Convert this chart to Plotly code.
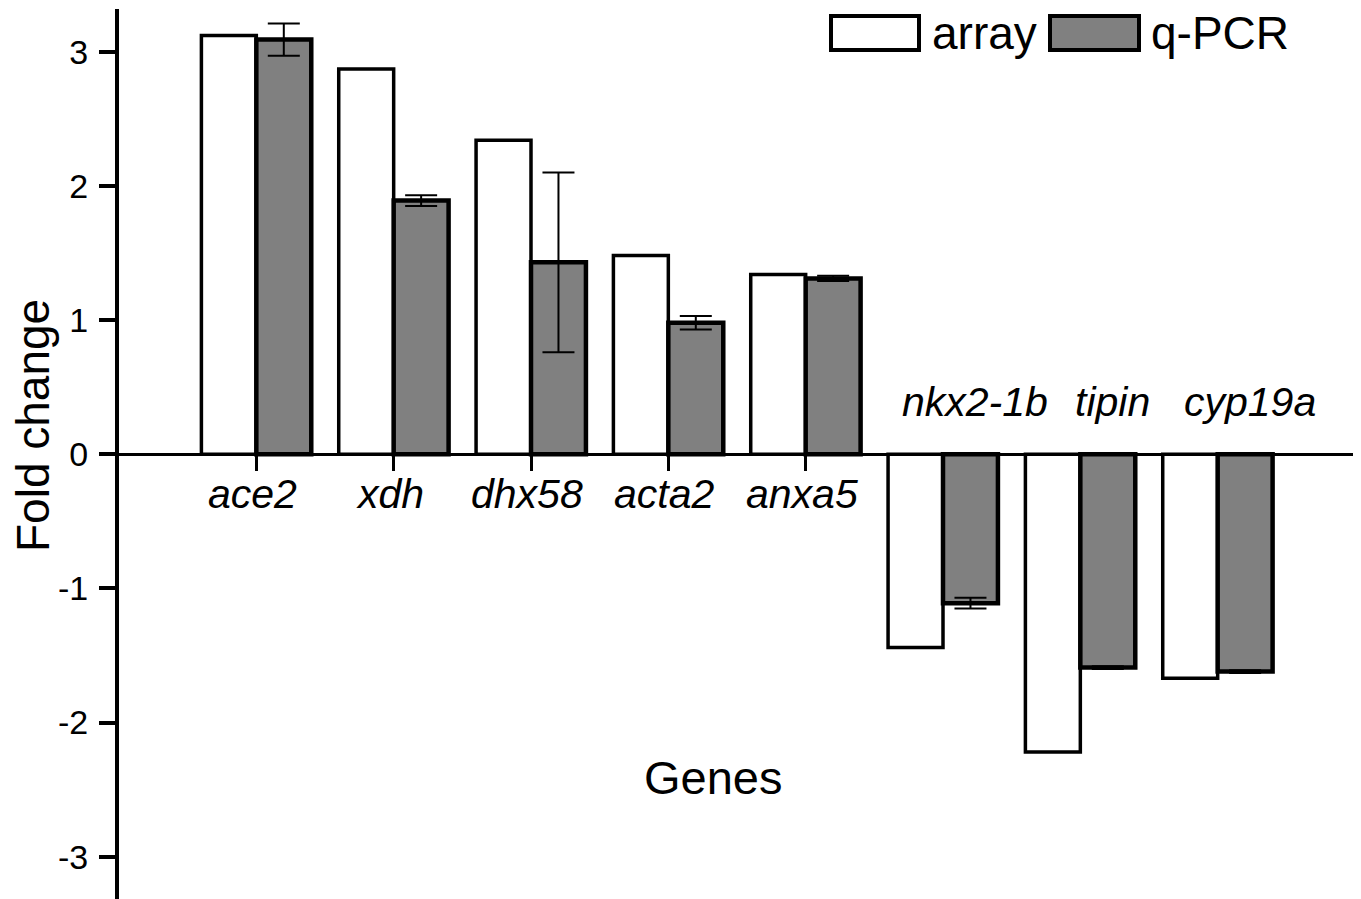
import plotly.graph_objects as go

genes = ["ace2", "xdh", "dhx58", "acta2", "anxa5", "nkx2-1b", "tipin", "cyp19a"]
array_vals = [3.12, 2.87, 2.34, 1.48, 1.34, -1.44, -2.22, -1.67]
qpcr_vals = [3.09, 1.89, 1.43, 0.98, 1.31, -1.11, -1.59, -1.62]
qpcr_err = [0.12, 0.04, 0.67, 0.05, 0.02, 0.04, 0.01, 0.01]
y_ticks = [-3, -2, -1, 0, 1, 2, 3]

OFF = 8  # default page body margin
W, H = 1361 - OFF, 899 - OFF
ML, MR, MT, MB = 111, 6, 1, 0
PW, PH = W - ML - MR, H - MT - MB
YR = [-3.315, 3.318]
XR = [-1, 8]

def px(x):
    return (x - OFF - ML) / PW

def py(y):
    return (H - MB - (y - OFF)) / PH

FONT = "Liberation Sans, Arial, sans-serif"
idx = list(range(len(genes)))

fig = go.Figure()
fig.add_trace(go.Bar(
    x=idx, y=array_vals, name="array",
    marker=dict(color="white", line=dict(color="black", width=3.5)),
    showlegend=False,
))
fig.add_trace(go.Bar(
    x=idx, y=qpcr_vals, name="q-PCR",
    marker=dict(color="#808080", line=dict(color="black", width=4.5)),
    error_y=dict(type="data", array=qpcr_err, color="black", thickness=2, width=16),
    showlegend=False,
))

annotations = []
for i, g in enumerate(genes):
    v = max(array_vals[i], qpcr_vals[i])
    if v >= 0:
        annotations.append(dict(x=i, y=0, xref="x", yref="y", text="<i>" + g + "</i>",
                                showarrow=False, yshift=-40, xshift=-4,
                                font=dict(family=FONT, size=41, color="black")))
    else:
        annotations.append(dict(x=i, y=0, xref="x", yref="y", text="<i>" + g + "</i>",
                                showarrow=False, yshift=52, xshift=32,
                                font=dict(family=FONT, size=41, color="black")))

annotations.append(dict(x=px(713), y=py(777), xref="paper", yref="paper", text="Genes",
                        showarrow=False, xanchor="center", yanchor="middle",
                        font=dict(family=FONT, size=47, color="black")))
annotations.append(dict(x=px(33), y=py(425), xref="paper", yref="paper", text="Fold change",
                        showarrow=False, textangle=-90, xanchor="center", yanchor="middle",
                        font=dict(family=FONT, size=46, color="black")))
# legend
annotations.append(dict(x=px(930), y=py(33), xref="paper", yref="paper", text="array",
                        xanchor="left", yanchor="middle", showarrow=False,
                        font=dict(family=FONT, size=46, color="black")))
annotations.append(dict(x=px(1149), y=py(33), xref="paper", yref="paper", text="q-PCR",
                        xanchor="left", yanchor="middle", showarrow=False,
                        font=dict(family=FONT, size=46, color="black")))

shapes = [
    dict(type="rect", xref="paper", yref="paper", x0=px(831), x1=px(919), y0=py(50), y1=py(16),
         fillcolor="white", line=dict(color="black", width=4)),
    dict(type="rect", xref="paper", yref="paper", x0=px(1050), x1=px(1139), y0=py(50), y1=py(16),
         fillcolor="#808080", line=dict(color="black", width=4)),
]

fig.update_layout(
    width=W, height=H,
    margin=dict(l=ML, r=MR, t=MT, b=MB, pad=0, autoexpand=False),
    paper_bgcolor="white", plot_bgcolor="white",
    barmode="group", bargap=0.2, bargroupgap=0,
    annotations=annotations, shapes=shapes,
    showlegend=False,
    xaxis=dict(range=XR, tickvals=list(range(0, 9)), showticklabels=False,
               showline=True, linecolor="black", linewidth=3,
               ticks="outside", ticklen=15, tickwidth=3, tickcolor="black",
               showgrid=False, zeroline=False, automargin=False,
               anchor="free", position=(0 - YR[0]) / (YR[1] - YR[0])),
    yaxis=dict(range=YR, tickvals=y_ticks, ticktext=[str(t) for t in y_ticks],
               showline=True, linecolor="black", linewidth=4,
               ticks="outside", ticklen=16, tickwidth=4, tickcolor="black",
               showgrid=False, zeroline=False, ticklabelstandoff=4, automargin=False,
               tickfont=dict(family=FONT, size=34, color="black")),
)

fig.write_html("out.html")
